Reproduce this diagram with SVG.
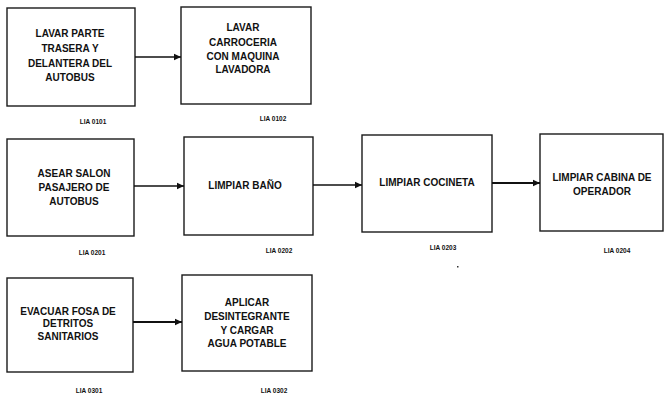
<svg xmlns="http://www.w3.org/2000/svg" width="664" height="399" viewBox="0 0 664 399">
<defs>
<marker id="ah" markerWidth="8" markerHeight="8" refX="7" refY="4" orient="auto" markerUnits="userSpaceOnUse">
<path d="M0,0.8 L7,4 L0,7.2 Z" fill="#111"/>
</marker>
<style>
.box{fill:#fff;stroke:#1a1a1a;stroke-width:1.4}
.t{font-family:"Liberation Sans",Arial,sans-serif;font-weight:bold;font-size:10px;fill:#111;text-anchor:middle}
.lbl{font-family:"Liberation Sans",Arial,sans-serif;font-weight:bold;font-size:6.5px;fill:#111;text-anchor:middle}
.c{stroke:#111;stroke-width:1.3;fill:none;marker-end:url(#ah)}
</style>
</defs>
<rect width="664" height="399" fill="#fff"/>
<g id="n0101">
<rect class="box" x="7" y="8" width="128" height="98"/>
<text class="t" x="70" y="37">LAVAR PARTE</text>
<text class="t" x="70" y="52">TRASERA Y</text>
<text class="t" x="70" y="67">DELANTERA DEL</text>
<text class="t" x="70" y="81">AUTOBUS</text>
<text class="lbl" x="93" y="124">LIA 0101</text>
</g>
<g id="n0102">
<rect class="box" x="181" y="7" width="130" height="97"/>
<text class="t" x="243" y="31">LAVAR</text>
<text class="t" x="243" y="46">CARROCERIA</text>
<text class="t" x="243" y="60">CON MAQUINA</text>
<text class="t" x="243" y="73">LAVADORA</text>
<text class="lbl" x="273" y="121">LIA 0102</text>
</g>
<g id="n0201">
<rect class="box" x="7" y="139" width="127" height="97"/>
<text class="t" x="74" y="177">ASEAR SALON</text>
<text class="t" x="74" y="191">PASAJERO DE</text>
<text class="t" x="74" y="205">AUTOBUS</text>
<text class="lbl" x="92" y="255">LIA 0201</text>
</g>
<g id="n0202">
<rect class="box" x="184" y="137" width="129" height="98"/>
<text class="t" x="245" y="189">LIMPIAR BAÑO</text>
<text class="lbl" x="279" y="253">LIA 0202</text>
</g>
<g id="n0203">
<rect class="box" x="362" y="135" width="130" height="97"/>
<text class="t" x="427" y="186">LIMPIAR COCINETA</text>
<text class="lbl" x="443" y="250">LIA 0203</text>
</g>
<g id="n0204">
<rect class="box" x="540" y="134" width="123" height="97"/>
<text class="t" x="602" y="181">LIMPIAR CABINA DE</text>
<text class="t" x="602" y="195">OPERADOR</text>
<text class="lbl" x="617" y="253">LIA 0204</text>
</g>
<g id="n0301">
<rect class="box" x="7" y="278" width="126" height="94"/>
<text class="t" x="68" y="315">EVACUAR FOSA DE</text>
<text class="t" x="68" y="327">DETRITOS</text>
<text class="t" x="68" y="340">SANITARIOS</text>
<text class="lbl" x="89" y="393">LIA 0301</text>
</g>
<g id="n0302">
<rect class="box" x="182" y="275" width="130" height="96"/>
<text class="t" x="247" y="306">APLICAR</text>
<text class="t" x="247" y="320">DESINTEGRANTE</text>
<text class="t" x="247" y="334">Y CARGAR</text>
<text class="t" x="247" y="347">AGUA POTABLE</text>
<text class="lbl" x="274" y="393">LIA 0302</text>
</g>
<g id="connectors">
<line class="c" x1="135" y1="57" x2="181" y2="57"/>
<line class="c" x1="134" y1="186" x2="184" y2="186"/>
<line class="c" x1="313" y1="185" x2="362" y2="185"/>
<line class="c" x1="492" y1="183" x2="540" y2="183" style="stroke-width:1.8"/>
<line class="c" x1="133" y1="322" x2="182" y2="322" style="stroke-width:1.8"/>
</g>
<rect x="457" y="266" width="1.5" height="1.5" fill="#333"/>
</svg>
